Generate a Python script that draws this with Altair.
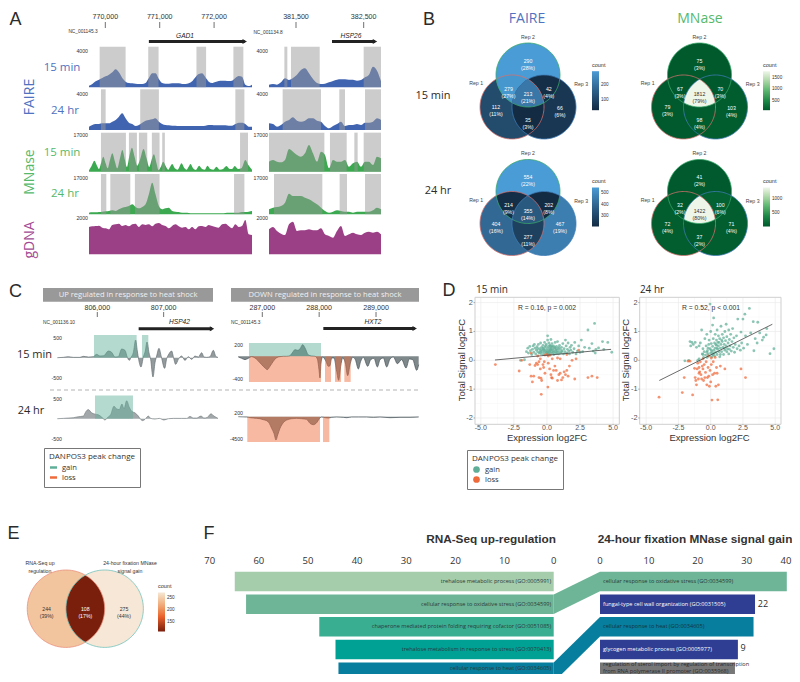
import altair as alt
import numpy as np
import pandas as pd

alt.data_transformers.disable_max_rows()

# ---------------------------------------------------------------- page layout
W, H, M = 784, 666, 8
SANS, OPEN = "Liberation Sans", "Open Sans"


def px_x(v):
    return v - M


def px_y(v):
    return v - M


def reads(unit, values):
    return [v * unit for v in values]


def a_l(z):
    return 770000 + (z - 316) / 0.1635


# ---------------------------------------------------------------- A: tracks
A_L_DOMAIN = [769700, 772697]
A_R_DOMAIN = [381101, 382756]
A_L_TICKS = [770000, 771000, 772000]
A_R_TICKS = [381500, 382500]
GAD1 = (770801, 772563)
HSP26 = (382032, 382667)

mnase15_l_read = [(267,4),(275,18),(283,33),(291,18),(297,8),(303,25),(310,45),(317,25),(323,10),(330,35),(337,55),(345,30),(352,10),(360,40),(367,65),(375,35),(381,14),(389,50),(396,72),(404,45),(412,18),(420,35),(431,68),(440,40),(448,14),(455,35),(462,52),(470,25),(476,5),(483,15),(490,30),(497,18),(505,6),(511,15),(517,23),(525,10),(533,6),(539,15),(545,25),(553,12),(560,6),(566,14),(572,23),(580,10),(588,5),(593,12),(598,18),(607,8),(615,6),(623,18),(632,8),(641,6),(650,15),(660,6),(670,8),(680,17),(690,8),(697,8),(705,17),(715,8),(725,10),(737,35),(746,20),(757,6)]

faire15_l = reads(36.4, [5,10,18,23,28,33,38,45,54,45,28,17,13,12,11,10,10,13,28,42,42,25,13,11,11,12,12,12,10,10,12,18,30,40,42,30,17,13,16,19,20,20,19,20,28,34,32,8,4,8])
faire15_r = reads(36.4, [8,10,8,15,27,22,28,38,52,57,42,25,13,10,11,15,19,23,24,24,23,23,20,22,30,38,62,50,18])
faire24_l = reads(37.4, [10,15,18,18,20,20,20,25,30,40,50,35,22,18,12,15,22,28,30,32,35,25,18,15,14,13,13,12,12,12,12,12,12,12,12,13,15,15,14,14,14,14,13,13,18,22,22,18,10,10])
faire24_r = reads(37.4, [20,18,10,15,25,30,38,28,25,28,35,35,28,25,12,5,12,18,25,12,15,15,18,15,22,22,25,35,30])
mnase15_l = reads(154.5, [p[1] for p in mnase15_l_read])
mnase15_r = reads(154.5, [30,35,30,28,35,68,60,50,45,55,80,55,30,60,50,10,35,30,30,35,15,25,30,15,30,30,20,45,40])
mnase24_l = reads(157, [5,6,6,7,8,9,10,12,10,15,20,22,25,30,22,18,22,30,60,95,60,25,15,18,20,10,8,7,5,5,4,3,3,3,3,3,3,3,3,3,3,4,5,5,5,5,7,7,8,10])
mnase24_r = reads(157, [15,20,22,25,35,62,55,55,55,50,45,38,30,20,10,5,8,12,10,8,8,5,8,8,8,8,12,20,15])
gdna_l = reads(18.5, [82,84,85,86,80,78,75,88,90,92,85,88,84,90,92,82,90,88,90,84,92,94,88,85,78,85,90,84,80,82,75,82,75,84,85,82,88,85,82,80,90,92,85,78,90,82,85,103,60,58])
gdna_r = reads(18.5, [75,82,70,62,58,90,98,70,72,72,75,72,72,78,60,55,50,70,85,55,60,65,60,58,65,68,65,68,60])

bands_f15_l = [(769896,770373),(770789,770979),(771676,771853),(772355,772538)]
bands_f24_l = [(769920,770006),(770642,770985),(772391,772557)]
bands_m15_l = [(769920,770379),(770434,770581),(770618,770771),(770856,770997),(771046,771095),(772477,772624)]
bands_m24_l = [(769920,770018),(770092,770459),(770544,770997),(772367,772557)]
bands_f15_r = [(381328,381372),(381426,381850),(382500,382756)]
bands_f24_r = [(381303,381869),(382140,382224),(382520,382756)]
bands_m15_r = [(381101,381919),(382002,382249),(382362,382411),(382500,382756)]
bands_m24_r = [(381175,381889),(382145,382254),(382520,382756)]


def lin(dom, rng):
    return alt.Scale(domain=list(dom), range=list(rng), nice=False, zero=False)


def ticks_x(values, sx, y_label, fmt="{:,d}", tick=None, size=7.1, color="#333", font=SANS, tick_color="#333"):
    """Tick labels (and optional tick rules) drawn on the panel's own x scale."""
    df = pd.DataFrame({"v": values, "t": [fmt.format(v) for v in values]})
    out = [alt.Chart(df).mark_text(font=font, fontSize=size, color=color, baseline="middle").encode(
        x=alt.X("v:Q", scale=sx, axis=None), y=alt.value(px_y(y_label)), text="t:N")]
    if tick:
        out.append(alt.Chart(df).mark_rule(color=tick_color, strokeWidth=0.7).encode(
            x=alt.X("v:Q", scale=sx, axis=None), y=alt.value(px_y(tick[0])), y2=alt.value(px_y(tick[1]))))
    return out


def ticks_y(values, sy, x_right, fmt="{:d}", tick=None, size=5.2, color="#333", tick_color="#888"):
    df = pd.DataFrame({"v": values, "t": [fmt.format(v) for v in values]})
    out = [alt.Chart(df).mark_text(font=SANS, fontSize=size, color=color, align="right", baseline="middle").encode(
        y=alt.Y("v:Q", scale=sy, axis=None), x=alt.value(px_x(x_right)), text="t:N")]
    if tick:
        out.append(alt.Chart(df).mark_rule(color=tick_color, strokeWidth=0.7).encode(
            y=alt.Y("v:Q", scale=sy, axis=None), x=alt.value(px_x(tick[0])), x2=alt.value(px_x(tick[1]))))
    return out


def track(vals, xdom, xpx, ydom, ypx, color, xs=None, line=False):
    sx = lin(xdom, [px_x(xpx[0]), px_x(xpx[1])])
    sy = lin(ydom, [px_y(ypx[0]), px_y(ypx[1])])
    xv = np.linspace(xdom[0], xdom[1], len(vals)) if xs is None else xs
    df = pd.DataFrame({"g": xv, "v": vals})
    mark = dict(color=color, interpolate="monotone")
    if line:
        mark["line"] = {"color": color, "strokeWidth": 0.7}
    ch = alt.Chart(df).mark_area(**mark).encode(
        x=alt.X("g:Q", scale=sx, axis=None), y=alt.Y("v:Q", scale=sy, axis=None, stack=None))
    return ch, sx, sy


def gray_bands(bands, top, sx, sy):
    df = pd.DataFrame({"a": [b[0] for b in bands], "b": [b[1] for b in bands], "t": top, "z": 0})
    return alt.Chart(df).mark_rect(color="#999999", opacity=0.5).encode(
        x=alt.X("a:Q", scale=sx, axis=None), x2="b:Q",
        y=alt.Y("t:Q", scale=sy, axis=None), y2="z:Q")


def gene(g, y, sx):
    df = pd.DataFrame({"a": [g[0]], "b": [g[1]]})
    r = alt.Chart(df).mark_rule(color="#222", strokeWidth=3).encode(
        x=alt.X("a:Q", scale=sx, axis=None), x2="b:Q", y=alt.value(px_y(y)))
    p = alt.Chart(df).mark_point(shape="triangle-right", filled=True, color="#222", size=26, opacity=1).encode(
        x=alt.X("b:Q", scale=sx, axis=None), y=alt.value(px_y(y)))
    return [r, p]


A_L_PX, A_R_PX = (89, 252), (269, 381)
BLUE, GREEN, PURPLE = "#4164b0", "#3ba94f", "#9b3f86"
a_rows = [
    # left vals, right vals, left bands, right bands, label value, base px, label px, band top value, colour
    (faire15_l, faire15_r, bands_f15_l, bands_f15_r, 4000, 87.3, 50.7, 4436, BLUE),
    (faire24_l, faire24_r, bands_f24_l, bands_f24_r, 4000, 130.0, 94.3, 4561, BLUE),
    (mnase15_l, mnase15_r, bands_m15_l, bands_m15_r, 17000, 171.7, 135.0, 18082, GREEN),
    (mnase24_l, mnase24_r, bands_m24_l, bands_m24_r, 17000, 214.3, 178.3, 19040, GREEN),
    (gdna_l, gdna_r, None, None, 2000, 254.3, 218.3, None, PURPLE),
]
LEFT_XS = {2: [a_l(p[0]) for p in mnase15_l_read]}
panels = []
for i, (vl, vr, bl, br, lab, base, lpx, top, col) in enumerate(a_rows):
    for side, v, b, dom, xpx, tks, lx, g in [
        ("l", vl, bl, A_L_DOMAIN, A_L_PX, A_L_TICKS, 88, GAD1),
        ("r", vr, br, A_R_DOMAIN, A_R_PX, A_R_TICKS, 268, HSP26),
    ]:
        ch, sx, sy = track(v, dom, xpx, [0, lab], [base, lpx], col, xs=LEFT_XS.get(i) if side == "l" else None)
        parts = [ch]
        if b:
            parts.append(gray_bands(b, top, sx, sy))
        parts += ticks_y([lab], sy, lx)
        if i == 0:
            parts += gene(g, 41.5, sx)
            parts += ticks_x(tks, sx, 17.3, tick=(22, 28))
        panels.append(alt.layer(*parts))


# ---------------------------------------------------------------- C: tracks
def c_l(z):
    return 806000 + (z - 292) / 0.199


def c_r(z):
    return 287000 + (z - 787) / 0.1705


c_up15 = [(172,0),(190,1),(205,3),(220,1),(240,1),(250,4),(265,2),(280,3),(290,10),(300,5),(312,6),(325,20),(335,16),(345,2),(355,3),(365,26),(375,22),(382,1),(388,-8),(393,1),(400,15),(407,53),(412,20),(416,-5),(423,-28),(430,2),(436,20),(441,47),(447,15),(452,-5),(459,-58),(465,-15),(470,5),(477,28),(484,3),(494,-32),(500,-3),(505,8),(515,20),(520,3),(527,-20),(535,-5),(545,5),(555,-8),(565,3),(575,-5),(585,5),(595,2),(605,15),(612,2),(620,1),(630,3),(640,22),(648,3),(654,1)]
c_up24 = [(172,0),(190,1),(205,2),(220,3),(235,6),(250,8),(258,22),(265,28),(275,18),(285,14),(295,12),(305,5),(315,-4),(322,3),(332,12),(342,38),(350,30),(358,28),(366,45),(372,30),(380,55),(388,35),(396,22),(405,18),(415,8),(422,-2),(428,-6),(435,-2),(445,8),(452,1),(465,-1),(478,1),(492,-4),(505,0),(520,1),(545,1),(560,1),(570,7),(580,2),(590,2),(603,8),(612,2),(622,4),(633,15),(642,8),(654,1)]
c_dn15 = [(715,-2),(725,-6),(735,-10),(745,-6),(755,-1),(765,-5),(775,-14),(785,-25),(795,-35),(802,-40),(810,-30),(820,-15),(830,-4),(840,-1),(850,0),(860,0),(870,2),(878,12),(885,20),(893,18),(900,22),(908,35),(915,25),(925,4),(935,1),(945,0),(952,-8),(957,-40),(960,-65),(963,-20),(968,-2),(978,-15),(985,-30),(990,-28),(995,-5),(1002,-5),(1010,-45),(1016,-72),(1022,-30),(1028,-5),(1036,-20),(1043,-58),(1050,-25),(1058,-3),(1066,-10),(1075,-38),(1082,-15),(1090,-3),(1103,-30),(1112,-10),(1122,-6),(1132,-32),(1140,-10),(1150,-5),(1160,-32),(1170,-8),(1180,-2),(1192,-22),(1205,-10),(1218,-35),(1228,-8),(1238,-10),(1250,-42),(1256,-25)]
c_dn24 = [(715,0),(740,-1),(750,-3),(760,-4),(770,-5),(780,-6),(790,-9),(800,-12),(808,-20),(815,-35),(822,-50),(828,-70),(833,-55),(840,-35),(850,-18),(860,-10),(875,-6),(890,-5),(905,-6),(920,-8),(930,-20),(940,-24),(950,-18),(958,-6),(965,-1),(975,-3),(985,-4),(995,-2),(1010,-1),(1030,-2),(1040,-3),(1055,-1),(1075,-1),(1100,-1),(1120,-2),(1140,-1),(1170,-3),(1200,-2),(1230,-2),(1256,-1)]

PEAK_GROUPS = ["gain", "loss"]
PEAK_COLORS = ["#5fae97", "#ef6a3a"]
c_bands_up15 = [("gain", 282, 410), ("gain", 426, 445)]
c_bands_up24 = [("gain", 285, 399)]
c_bands_dn15 = [("gain", 747, 963), ("loss", 747, 963), ("loss", 975, 993), ("loss", 1005, 1023), ("loss", 1033, 1052)]
c_bands_dn24 = [("loss", 742, 960), ("loss", 969, 988)]

C_L_DOMAIN, C_R_DOMAIN = [c_l(172), c_l(654)], [c_r(715), c_r(1256)]
C_L_PX, C_R_PX = (57.3, 218), (238.3, 418.7)


def peak_bands(bands, conv, gain_top, loss_bottom, sx, sy, legend=None):
    df = pd.DataFrame({"group": [b[0] for b in bands], "a": [conv(b[1]) for b in bands],
                       "b": [conv(b[2]) for b in bands],
                       "t": [gain_top if b[0] == "gain" else loss_bottom for b in bands], "z": 0})
    return alt.Chart(df).mark_rect(opacity=0.47).encode(
        x=alt.X("a:Q", scale=sx, axis=None), x2="b:Q",
        y=alt.Y("t:Q", scale=sy, axis=None), y2="z:Q",
        color=alt.Color("group:N", scale=alt.Scale(domain=PEAK_GROUPS, range=PEAK_COLORS), legend=legend))


c_legend = alt.Legend(orient="none", legendX=px_x(44), legendY=px_y(448), title="DANPOS3 peak change",
                      titleFont=OPEN, titleFontSize=8, titleFontWeight="normal", titleColor="#333",
                      titlePadding=2, labelFont=OPEN, labelFontSize=7.6, labelColor="#333", padding=5,
                      strokeColor="#777", symbolType="M-1,-0.35H1V0.35H-1Z", symbolSize=50,
                      symbolOpacity=1, rowPadding=1)

c_rows = [
    (c_up15, c_l, C_L_DOMAIN, C_L_PX, [-500, 500], [377.7, 337.7], 8.33, "#667074", c_bands_up15, 567, 0, [500, -500], 62, [806000, 807000], None),
    (c_up24, c_l, C_L_DOMAIN, C_L_PX, [-500, 500], [438.7, 398.7], 8.13, "#7a8285", c_bands_up24, 577, 0, [500, -500], 62, None, None),
    (c_dn15, c_r, C_R_DOMAIN, C_R_PX, [-400, 200], [379.3, 344.8], 5.8, "#49555a", c_bands_dn15, 232, -446, [200, -400], 243, [287000, 288000, 289000], c_legend),
    (c_dn24, c_r, C_R_DOMAIN, C_R_PX, [-4500, 0], [438.7, 416.7], 68.2, "#49555a", c_bands_dn24, 0, -5182, [-4500], 243, None, None),
]
C_GENES = {0: (c_l(416), c_l(636), 328.7), 2: (c_r(970), c_r(1244), 328.5)}
for i, (pts, conv, dom, xpx, yd, yp, unit, col, bands, gt, lb, labs, lx, tks, leg) in enumerate(c_rows):
    ch, sx, sy = track([p[1] * unit for p in pts], dom, xpx, yd, yp, col, xs=[conv(p[0]) for p in pts], line=True)
    parts = [ch, peak_bands(bands, conv, gt, lb, sx, sy, legend=leg)]
    parts += ticks_y(labs, sy, lx)
    if tks:
        parts += ticks_x(tks, sx, 308, tick=(312, 317))
    if i in C_GENES:
        g = C_GENES[i]
        parts += gene((g[0], g[1]), g[2], sx)
    panels.append(alt.layer(*parts))

# ---------------------------------------------------------------- B, E: Venn diagrams
V3_NAMES = ["1", "2", "3", "12", "23", "13", "123"]
V3_CENTERS = {"1": (-0.5, 0.0), "2": (0.0, 1.0), "3": (0.5, 0.0)}
V3_LABEL_XY = {"1": (-1.0, 0.0), "2": (0.0, 1.45), "3": (1.0, -0.03), "12": (-0.61, 0.57), "23": (0.65, 0.57),
               "13": (0.0, -0.41), "123": (0.0, 0.40)}
V3_REP_XY = {"Rep 1": (-1.62, 0.74), "Rep 2": (0.0, 2.19), "Rep 3": (1.66, 0.71)}
V3_STROKES = {"1": "#d4716f", "2": "#39a86a", "3": "#3f7cb8"}

faire15_counts = [112, 290, 66, 279, 42, 35, 213]
faire15_pct = [11, 28, 6, 27, 4, 3, 21]
faire24_counts = [404, 554, 467, 214, 202, 277, 355]
faire24_pct = [16, 22, 19, 9, 8, 11, 14]
mnase15_counts = [79, 75, 103, 67, 70, 98, 1812]
mnase15_pct = [3, 3, 4, 3, 3, 4, 79]
mnase24_counts = [72, 41, 71, 32, 100, 37, 1422]
mnase24_pct = [4, 2, 4, 2, 6, 2, 80]
e_counts = [244, 275, 108]
e_pct = [39, 44, 17]
E_NAMES = ["1", "2", "12"]
E_CENTERS = {"1": (-0.5, 0.0), "2": (0.5, 0.0)}
E_LABEL_XY = {"1": (-1.0, 0.0), "2": (1.0, 0.0), "12": (0.0, 0.0)}
E_STROKES = {"1": "#e98f7d", "2": "#6fc1bb"}


def region_rows(names, centers, counts):
    frames = []
    theta = np.linspace(0, np.pi, 130)
    xs = np.unique(np.concatenate([c[0] + np.cos(theta) for c in centers.values()]))
    for idx, (nm, cnt) in enumerate(zip(names, counts)):
        cs = [centers[k] for k in nm]
        lo = np.full_like(xs, -np.inf)
        hi = np.full_like(xs, np.inf)
        ok = np.ones_like(xs, dtype=bool)
        for (cx, cy) in cs:
            d = 1 - (xs - cx) ** 2
            ok &= d >= -1e-12
            root = np.sqrt(np.clip(d, 0, None))
            lo = np.maximum(lo, cy - root)
            hi = np.minimum(hi, cy + root)
        ok &= hi >= lo
        frames.append(pd.DataFrame({"u": xs[ok], "lo": lo[ok], "hi": hi[ok], "region": f"{idx}-{nm}", "count": cnt}))
    return pd.concat(frames, ignore_index=True)


def circle_rows(center):
    t = np.linspace(0, 2 * np.pi, 160)
    return pd.DataFrame({"u": center[0] + np.cos(t), "w": center[1] + np.sin(t), "i": np.arange(len(t))})


def venn(names, centers, counts, pct, label_xy, strokes, cx, cy, unit, color_scale, legend, dark_rule, rep_xy=None,
         tsize=5.2):
    sx = lin([-2, 2], [px_x(cx - 2 * unit), px_x(cx + 2 * unit)])
    sy = lin([-2, 2], [px_y(cy + 2 * unit), px_y(cy - 2 * unit)])
    area = alt.Chart(region_rows(names, centers, counts)).mark_area().encode(
        x=alt.X("u:Q", scale=sx, axis=None), y=alt.Y("hi:Q", scale=sy, axis=None, stack=None), y2="lo:Q",
        detail="region:N",
        color=alt.Color("count:Q", scale=color_scale, legend=legend))
    parts = [area]
    for k, c in centers.items():
        parts.append(alt.Chart(circle_rows(c)).mark_line(color=strokes[k], strokeWidth=0.8).encode(
            x=alt.X("u:Q", scale=sx, axis=None), y=alt.Y("w:Q", scale=sy, axis=None), order="i:Q"))
    lab = pd.DataFrame({"u": [label_xy[n][0] for n in names], "w": [label_xy[n][1] for n in names],
                        "t": [f"{c}\n({p}%)" for c, p in zip(counts, pct)], "count": counts})
    dark = lab["count"].map(dark_rule)
    for sub, col in [(lab[~dark], "#ffffff"), (lab[dark], "#333333")]:
        if len(sub):
            parts.append(alt.Chart(sub).mark_text(lineBreak="\n", color=col, font=SANS, fontSize=tsize, lineHeight=7).encode(
                x=alt.X("u:Q", scale=sx, axis=None), y=alt.Y("w:Q", scale=sy, axis=None), text="t:N"))
    if rep_xy:
        rp = pd.DataFrame({"u": [v[0] for v in rep_xy.values()], "w": [v[1] for v in rep_xy.values()],
                           "t": list(rep_xy.keys())})
        parts.append(alt.Chart(rp).mark_text(color="#444", font=SANS, fontSize=5.2).encode(
            x=alt.X("u:Q", scale=sx, axis=None), y=alt.Y("w:Q", scale=sy, axis=None), text="t:N"))
    return alt.layer(*parts)


def grad_legend(x, grad_top, values, length=39):
    return alt.Legend(orient="none", legendX=px_x(x), legendY=px_y(grad_top - 9), title="count", titleFont=SANS,
                      titleFontSize=5.5, titleFontWeight="normal", titleColor="#333", titlePadding=3,
                      gradientLength=length, gradientThickness=7, values=values, labelFont=SANS, labelFontSize=4.6,
                      labelColor="#333", labelOffset=2, gradientStrokeWidth=0, format="d")


def blue_scale(lo, hi):
    return alt.Scale(domain=[lo, hi], range=["#132B43", "#4a9cd6"], interpolate="lab")


def green_scale(lo, a, b, hi):
    return alt.Scale(domain=[lo, a, b, hi], range=["#00592c", "#1e8a47", "#63bb76", "#eef6ea"])


never_dark = lambda c: False
panels.append(venn(V3_NAMES, V3_CENTERS, faire15_counts, faire15_pct, V3_LABEL_XY, V3_STROKES, 528, 107, 32,
                   blue_scale(35, 290), grad_legend(592, 71.7, [100, 200]), never_dark, V3_REP_XY))
panels.append(venn(V3_NAMES, V3_CENTERS, faire24_counts, faire24_pct, V3_LABEL_XY, V3_STROKES, 528, 223.5, 32,
                   blue_scale(202, 554), grad_legend(592, 188, [300, 400, 500]), never_dark, V3_REP_XY))
panels.append(venn(V3_NAMES, V3_CENTERS, mnase15_counts, mnase15_pct, V3_LABEL_XY, V3_STROKES, 699.5, 107, 32,
                   green_scale(67, 500, 1000, 1812), grad_legend(763, 71.7, [500, 1000, 1500]), lambda c: c >= 1000, V3_REP_XY))
panels.append(venn(V3_NAMES, V3_CENTERS, mnase24_counts, mnase24_pct, V3_LABEL_XY, V3_STROKES, 699.5, 223.5, 32,
                   green_scale(32, 420, 800, 1422), grad_legend(763, 188, [500, 1000]), lambda c: c >= 1000, V3_REP_XY))
panels.append(venn(E_NAMES, E_CENTERS, e_counts, e_pct, E_LABEL_XY, E_STROKES, 85.3, 608.7, 38.7,
                   alt.Scale(domain=[108, 170, 220, 275], range=["#7a1f0c", "#e8602a", "#f0a878", "#f7e7d6"]),
                   grad_legend(158, 593, [150, 200, 250]), lambda c: c >= 200))

# ---------------------------------------------------------------- D: scatter
d15_gain = [(-2.0,0.0),(-1.7,0.02),(-1.55,0.3),(-1.45,0.42),(-1.4,0.25),(-1.3,0.48),(-1.25,0.33),(-1.15,0.2),(-1.1,0.38),(-1.05,0.5),(-1.0,0.28),(-0.95,0.55),(-0.9,0.42),(-0.85,0.22),(-0.8,0.35),(-0.75,0.47),(-0.7,0.3),(-0.65,0.55),(-0.6,0.25),(-0.55,0.4),(-0.5,0.33),(-0.48,0.6),(-0.45,0.23),(-0.4,0.45),(-0.35,0.3),(-0.3,0.52),(-0.28,0.2),(-0.25,0.38),(-0.2,0.28),(-0.18,0.62),(-0.15,0.45),(-0.1,0.33),(-0.08,0.24),(-0.05,0.55),(0.0,0.4),(0.02,0.3),(0.05,0.85),(0.05,0.7),(0.08,0.2),(0.1,0.47),(0.12,0.35),(0.15,0.6),(0.18,0.28),(0.2,0.42),(0.22,0.52),(0.25,0.22),(0.28,0.36),(0.3,0.72),(0.32,0.3),(0.35,0.46),(0.38,0.58),(0.4,0.25),(0.42,0.38),(0.45,0.33),(0.5,0.5),(0.52,0.2),(0.55,0.42),(0.6,0.3),(0.62,0.62),(0.65,0.36),(0.7,0.24),(0.72,0.48),(0.78,0.33),(0.8,0.65),(0.85,0.4),(0.88,0.22),(0.92,0.3),(0.95,0.52),(1.0,0.38),(1.05,0.25),(1.1,0.45),(1.15,0.33),(1.2,0.58),(1.25,0.22),(1.3,0.4),(1.35,0.3),(1.4,0.7),(1.45,0.5),(1.5,0.26),(1.55,0.38),(1.6,0.6),(1.65,0.32),(1.7,0.22),(1.75,0.45),(1.8,0.35),(1.85,0.52),(1.95,0.28),(2.05,0.4),(2.1,0.62),(2.2,0.22),(2.3,0.32),(2.4,0.5),(2.5,0.28),(2.6,0.7),(2.7,0.3),(2.85,0.45),(3.1,1.05),(3.2,0.42),(3.4,0.58),(3.5,0.32),(3.6,1.28),(3.65,0.25),(3.7,0.38),(3.9,0.43),(4.2,0.65),(4.3,0.38),(4.6,0.62),(4.9,0.28),(-0.5,0.28),(-0.2,0.35),(0.1,0.25),(0.3,0.4),(0.5,0.28),(0.7,0.4),(-0.3,0.42),(-0.1,0.5),(0.2,0.33),(0.4,0.48),(0.6,0.45),(0.9,0.45),(-0.7,0.4),(-0.4,0.36),(0.0,0.28),(0.25,0.5),(0.75,0.28),(1.1,0.3)]
d15_loss = [(-3.9,-0.15),(-2.1,-0.37),(-1.9,0.0),(-1.3,-0.15),(-1.2,-0.55),(-1.1,-0.75),(-1.0,-0.55),(-0.9,-0.18),(-0.8,-0.1),(-0.7,-0.15),(-0.6,-0.05),(-0.6,-0.6),(-0.5,-0.3),(-0.45,-0.62),(-0.43,-1.18),(-0.4,-0.7),(-0.3,-0.15),(-0.25,-0.25),(-0.2,-0.05),(-0.15,-0.45),(0.07,-0.93),(0.0,0.2),(0.1,0.15),(0.1,-0.1),(0.2,-0.3),(0.3,-0.5),(0.35,-0.6),(0.4,-0.62),(0.5,-0.35),(0.6,-0.2),(0.7,-0.35),(0.8,-0.7),(0.9,-0.5),(1.0,-0.45),(1.1,-0.68),(1.2,-0.6),(1.3,-0.4),(1.4,-0.5),(1.5,-0.35),(1.6,-0.55),(1.7,-0.2),(1.9,0.0),(1.0,0.05),(1.5,0.2),(2.1,-0.65),(2.2,0.05),(2.4,0.35),(3.1,-0.6),(3.4,-0.55),(3.8,-0.6),(-0.5,0.05),(0.4,0.05),(0.8,0.08),(-0.15,0.18),(-1.2,0.25),(-0.7,0.15),(0.25,0.18)]
d24_gain = [(-2.0,-0.02),(-1.7,0.0),(-1.6,0.65),(-1.55,0.5),(-1.45,0.62),(-1.35,0.55),(-1.2,0.62),(-1.1,0.45),(-1.0,0.0),(-0.9,0.05),(-0.8,0.6),(-0.7,1.05),(-0.65,0.22),(-0.6,0.4),(-0.55,0.1),(-0.5,0.3),(-0.45,0.75),(-0.4,0.18),(-0.35,0.5),(-0.3,0.9),(-0.28,0.1),(-0.25,0.33),(-0.2,0.22),(-0.15,0.55),(-0.12,0.7),(-0.1,0.15),(-0.05,1.95),(-0.05,0.4),(0.0,0.25),(0.0,1.0),(0.05,0.58),(0.1,0.3),(0.1,0.12),(0.15,1.22),(0.15,0.48),(0.2,0.75),(0.2,0.2),(0.23,1.47),(0.25,0.35),(0.3,0.6),(0.3,0.15),(0.35,0.9),(0.35,0.42),(0.4,0.28),(0.45,0.7),(0.45,0.52),(0.5,1.05),(0.5,0.2),(0.55,0.38),(0.6,0.85),(0.6,0.5),(0.65,0.62),(0.65,0.3),(0.7,0.12),(0.7,0.75),(0.75,0.42),(0.8,1.18),(0.8,0.55),(0.85,0.3),(0.9,0.9),(0.9,0.65),(0.95,0.45),(1.0,0.78),(1.0,0.2),(1.05,0.55),(1.1,1.0),(1.1,0.35),(1.15,0.68),(1.2,0.5),(1.2,1.25),(1.25,0.82),(1.3,0.4),(1.35,0.6),(1.4,1.05),(1.4,0.22),(1.45,0.72),(1.5,0.5),(1.55,0.9),(1.6,0.32),(1.65,0.65),(1.7,1.1),(1.75,0.45),(1.8,0.78),(1.85,0.28),(1.9,0.55),(2.0,0.85),(2.05,0.4),(2.1,1.43),(2.2,0.5),(2.3,0.35),(2.35,0.98),(2.4,0.6),(2.5,1.43),(2.55,0.42),(2.65,1.6),(2.7,0.85),(2.85,0.55),(3.0,1.8),(3.1,0.95),(3.3,1.34),(3.35,0.33),(3.45,0.75),(3.6,0.6),(3.65,1.32),(3.8,0.95),(4.0,0.7),(4.1,0.8),(4.3,0.88),(4.35,1.1),(4.6,0.23),(4.9,0.4),(-0.9,0.5),(-0.3,0.28),(0.05,0.35),(0.25,0.25),(0.4,0.55),(0.55,0.62),(0.75,0.2),(0.85,0.7),(1.05,0.42),(1.25,0.3),(1.45,0.38),(-0.6,0.2),(-0.2,0.42),(0.15,0.2),(0.5,0.42)]
d24_loss = [(-4.0,-1.28),(-2.2,-1.12),(-2.05,-0.6),(-1.75,-0.03),(-1.6,-0.03),(-1.4,-1.2),(-1.25,-0.28),(-1.2,-0.6),(-1.15,-0.7),(-1.1,-0.85),(-1.05,-0.3),(-1.0,-0.1),(-0.95,-0.65),(-0.9,-0.25),(-0.85,-0.4),(-0.8,-0.05),(-0.75,-0.5),(-0.7,-0.65),(-0.65,-0.2),(-0.6,-0.3),(-0.55,-0.7),(-0.5,-0.15),(-0.45,-0.6),(-0.4,-0.42),(-0.35,-0.05),(-0.3,-0.85),(-0.25,-0.6),(-0.2,-0.25),(-0.15,-0.55),(-0.1,-0.9),(-0.05,-0.35),(0.0,-0.75),(0.05,-0.15),(0.1,-1.38),(0.15,-0.5),(0.2,-0.05),(0.3,-0.45),(0.35,0.1),(0.4,-0.9),(0.45,-0.25),(0.5,-0.45),(0.55,-1.37),(0.6,-0.85),(0.75,-0.2),(-0.6,0.05),(-0.2,0.15),(0.05,0.08),(-0.9,-0.45),(1.1,-0.3),(2.35,-0.3),(2.7,-0.6)]
d15_fit = [(-3.93, 0.01), (4.85, 0.38)]
d24_fit = [(-3.98, -0.70), (4.78, 1.25)]
D_X_TICKS = [-5.0, -2.5, 0.0, 2.5, 5.0]
D_X_MINOR = [-3.75, -1.25, 1.25, 3.75]
D_Y_TICKS = [-2, -1, 0, 1, 2]
D_Y_MINOR = [-1.5, -0.5, 0.5, 1.5]


def scatter(gain, loss, fit, xdom, xpx, legend):
    ydom = [-2.22, 2.185]
    ypx = [424.3, 297.3]
    sx = lin(xdom, [px_x(xpx[0]), px_x(xpx[1])])
    sy = lin(ydom, [px_y(ypx[0]), px_y(ypx[1])])
    parts = []
    for vals, col, w in [(D_X_MINOR, "#f4f4f4", 0.5), (D_X_TICKS, "#ebebeb", 0.7)]:
        parts.append(alt.Chart(pd.DataFrame({"x": vals, "a": ydom[0], "b": ydom[1]})).mark_rule(color=col, strokeWidth=w).encode(
            x=alt.X("x:Q", scale=sx, axis=None), y=alt.Y("a:Q", scale=sy, axis=None), y2="b:Q"))
    for vals, col, w in [(D_Y_MINOR, "#f4f4f4", 0.5), (D_Y_TICKS, "#ebebeb", 0.7)]:
        parts.append(alt.Chart(pd.DataFrame({"y": vals, "a": xdom[0], "b": xdom[1]})).mark_rule(color=col, strokeWidth=w).encode(
            y=alt.Y("y:Q", scale=sy, axis=None), x=alt.X("a:Q", scale=sx, axis=None), x2="b:Q"))
    frame = pd.DataFrame({"a": [xdom[0]], "b": [xdom[1]], "c": [ydom[0]], "d": [ydom[1]]})
    parts.append(alt.Chart(frame).mark_rect(fill=None, stroke="#cfcfcf", strokeWidth=1).encode(
        x=alt.X("a:Q", scale=sx, axis=None), x2="b:Q", y=alt.Y("c:Q", scale=sy, axis=None), y2="d:Q"))
    parts += ticks_x(D_X_TICKS, sx, 427.9, fmt="{:.1f}", tick=(424.3, 425), size=7.0, color="#555", tick_color="#888")
    parts += ticks_y(D_Y_TICKS, sy, xpx[0] - 2.2, tick=(xpx[0] - 1.5, xpx[0]), size=7.4, color="#555")
    pts = pd.DataFrame(
        [{"x": p[0], "y": p[1], "group": "gain"} for p in gain] + [{"x": p[0], "y": p[1], "group": "loss"} for p in loss])
    parts.append(alt.Chart(pts).mark_circle(size=8, opacity=0.72).encode(
        x=alt.X("x:Q", scale=sx, axis=None), y=alt.Y("y:Q", scale=sy, axis=None),
        color=alt.Color("group:N", scale=alt.Scale(domain=PEAK_GROUPS, range=PEAK_COLORS), legend=legend)))
    ft = pd.DataFrame({"x": [f[0] for f in fit], "y": [f[1] for f in fit]})
    parts.append(alt.Chart(ft).mark_line(color="#444", strokeWidth=0.8).encode(
        x=alt.X("x:Q", scale=sx, axis=None), y=alt.Y("y:Q", scale=sy, axis=None)))
    return alt.layer(*parts)


d_legend = alt.Legend(orient="none", legendX=px_x(467), legendY=px_y(450), title="DANPOS3 peak change",
                      titleFont=OPEN, titleFontSize=8, titleFontWeight="normal", titleColor="#333", titlePadding=2,
                      labelFont=OPEN, labelFontSize=7.6, labelColor="#333", padding=5, strokeColor="#777",
                      symbolType="circle", symbolSize=45, symbolOpacity=1, rowPadding=1)
panels.append(scatter(d15_gain, d15_loss, d15_fit, [-5.44, 5.47], [475, 619.3], d_legend))
panels.append(scatter(d24_gain, d24_loss, d24_fit, [-5.5, 5.45], [639.7, 781], None))

# ---------------------------------------------------------------- F: enrichment bars
f_left_terms = ["trehalose metabolic process (GO:0005991)", "cellular response to oxidative stress (GO:0034599)",
                "chaperone mediated protein folding requiring cofactor (GO:0051085)",
                "trehalose metabolism in response to stress (GO:0070413)", "cellular response to heat (GO:0034605)"]
f_left_values = [64.9, 62.6, 47.7, 44.4, 43.8]
f_left_colors = ["#a5ccab", "#6eb597", "#3aae91", "#00a195", "#087e9e"]
f_right_terms = ["cellular response to oxidative stress (GO:0034599)", "fungal-type cell wall organization (GO:0031505)",
                 "cellular response to heat (GO:0034605)", "glycogen metabolic process (GO:0005977)",
                 "regulation of sterol import by regulation of transcription\nfrom RNA polymerase II promoter (GO:0035968)"]
f_right_values = [38.2, 31.7, 31.4, 28.2, 27.6]
f_right_colors = ["#6eb597", "#2f3e92", "#087e9e", "#2f3e92", "#777777"]
f_right_text_colors = ["#263a36", "#ffffff", "#12343c", "#ffffff", "#2b2b2b"]
BAR_H = 0.86
f_sy = lin([4 + BAR_H, 0], [px_y(682), px_y(571.7)])


def f_side(values, terms, colors, text_colors, sx, ticks, align, dx, last_row_lift=0.0):
    rows = range(len(values))
    df = pd.DataFrame({"v": values, "z": 0, "r": [float(i) for i in rows],
                       "r2": [i + BAR_H for i in rows], "c": colors, "t": terms,
                       "m": [i + BAR_H / 2 - 0.02 - (last_row_lift if i == len(values) - 1 else 0) for i in rows],
                       "tc": text_colors})
    bars = alt.Chart(df).mark_rect().encode(
        x=alt.X("v:Q", scale=sx, axis=None), x2="z:Q", y=alt.Y("r:Q", scale=f_sy, axis=None), y2="r2:Q",
        color=alt.Color("c:N", scale=None))
    txt = alt.Chart(df).mark_text(align=align, dx=dx, font=OPEN, fontSize=5.6, lineBreak="\n", lineHeight=7).encode(
        x=alt.X("z:Q", scale=sx, axis=None), y=alt.Y("m:Q", scale=f_sy, axis=None), text="t:N",
        color=alt.Color("tc:N", scale=None))
    return [bars, txt] + ticks_x(ticks, sx, 561, fmt="{:d}", size=9.5, font=OPEN)


f_lx = lin([70, 0], [px_x(209.7), px_x(553.7)])
f_rx = lin([0, 40], [px_x(600), px_x(795.6)])
panels.append(alt.layer(*f_side(f_left_values, f_left_terms, f_left_colors, ["#2b3a38"] * 5, f_lx,
                                list(range(0, 71, 10)), "right", -2.5, last_row_lift=0.17)))
# the page edge is at 792: the "40" label is placed by hand just inside it
panels.append(alt.layer(*f_side(f_right_values, f_right_terms, f_right_colors, f_right_text_colors, f_rx,
                                list(range(0, 31, 10)), "left", 3, last_row_lift=0.34)))
# ribbons join the terms present on both sides
ribbon_x = lin([0, 1], [px_x(553.7), px_x(600)])
for i, term in enumerate(f_left_terms):
    if term in f_right_terms:
        j = f_right_terms.index(term)
        rb = pd.DataFrame({"x": [0, 1], "t": [i, j], "b": [i + BAR_H, j + BAR_H]})
        panels.append(alt.Chart(rb).mark_area(color=f_left_colors[i]).encode(
            x=alt.X("x:Q", scale=ribbon_x, axis=None), y=alt.Y("t:Q", scale=f_sy, axis=None, stack=None), y2="b:Q"))


# ---------------------------------------------------------------- text and headers
def notes(rows, font=OPEN, align="center", weight="normal", style="normal", angle=None):
    df = pd.DataFrame(rows, columns=["t", "x", "y", "s", "c"])
    df["x"] = df["x"] - M
    df["y"] = df["y"] - M
    kw = dict(font=font, align=align, baseline="middle", fontWeight=weight, fontStyle=style, lineBreak="\n", lineHeight=7.5)
    if angle is not None:
        kw["angle"] = angle
    return alt.Chart(df).mark_text(**kw).encode(
        x=alt.X("x:Q", scale=None), y=alt.Y("y:Q", scale=None), text="t:N",
        size=alt.Size("s:Q", scale=None, legend=None), color=alt.Color("c:N", scale=None))


HDR = "#999999"
header_df = pd.DataFrame({"a": [43, 231], "b": [213, 419], "t": [288, 288], "u": [301.7, 301.7]})
for col in "ab":
    header_df[col] = header_df[col] - M
for col in "tu":
    header_df[col] = header_df[col] - M
panels.append(alt.Chart(header_df).mark_rect(color=HDR).encode(
    x=alt.X("a:Q", scale=None), x2="b:Q", y=alt.Y("t:Q", scale=None), y2="u:Q"))

DARK, BLUE_T, GREEN_T, PURPLE_T = "#2b2b2b", "#4f73c0", "#55b96b", "#a24a94"
panels.append(notes([
    ("A", 15.5, 19.5, 18, DARK), ("B", 429, 19.5, 18, DARK), ("C", 15.5, 292, 18, DARK), ("D", 449, 291, 18, DARK),
    ("E", 13.5, 534, 18, DARK), ("F", 209, 534, 18, DARK),
], font=SANS))
panels.append(notes([
    ("15 min", 62, 68, 11.5, BLUE_T), ("24 hr", 65, 111, 11.5, BLUE_T),
    ("15 min", 62, 153, 11.5, GREEN_T), ("24 hr", 65, 194, 11.5, GREEN_T),
    ("FAIRE", 527, 19, 14, BLUE_T), ("MNase", 700, 19, 14, GREEN_T),
    ("15 min", 433, 96, 11, DARK), ("24 hr", 438, 191, 11, DARK),
    ("15 min", 34.5, 355, 11, DARK), ("24 hr", 31, 411, 11, DARK),
    ("15 min", 492, 290, 10, DARK), ("24 hr", 652, 290, 10, DARK),
    ("UP regulated in response to heat shock", 128, 294.7, 7.6, "#f0f0f0"),
    ("DOWN regulated in response to heat shock", 325, 294.7, 7.6, "#f0f0f0"),
    ("22", 763, 604, 9, DARK), ("9", 743, 648, 9, DARK), ("40", 786, 561, 9.5, "#333"),
]))
panels.append(notes([("FAIRE", 30, 97, 14, BLUE_T), ("MNase", 30, 172, 14, GREEN_T), ("gDNA", 30, 240, 14, PURPLE_T)], angle=270))
panels.append(notes([
    ("NC_001145.3", 83, 32, 4.8, "#333"), ("NC_001134.8", 268, 33, 4.8, "#333"),
    ("NC_001136.10", 59, 323, 4.8, "#333"), ("NC_001145.3", 245.7, 322.5, 4.8, "#333"),
    ("R = 0.16, p = 0.002", 547, 308, 6.8, "#333"), ("R = 0.52, p < 0.001", 711, 308, 6.8, "#333"),
    ("RNA-Seq up\nregulation", 40, 563, 5.2, "#333"), ("24-hour fixation MNase\nsignal gain", 130, 563, 5.2, "#333"),
    ("Expression log2FC", 547, 437.5, 9.5, "#333"), ("Expression log2FC", 709.5, 437.5, 9.5, "#333"),
], font=SANS))
panels.append(notes([("Total Signal log2FC", 461.7, 360, 9.5, "#333"), ("Total Signal log2FC", 626, 360, 9.5, "#333")],
                    font=SANS, angle=270))
panels.append(notes([("200", 243, 413.3, 5.2, "#333")], font=SANS, align="right"))
panels.append(notes([("GAD1", 185, 36, 6.6, "#222"), ("HSP26", 351, 36, 6.6, "#222"),
                     ("HSP42", 179.5, 322, 6.6, "#222"), ("HXT2", 373, 322, 6.6, "#222")], font=SANS, style="italic"))
panels.append(notes([("RNA-Seq up-regulation", 491, 539, 11.8, "#333"),
                     ("24-hour fixation MNase signal gain", 695, 539, 11.8, "#333")], font=SANS, weight="bold"))

# dashed divider in panel C
panels.append(alt.Chart(pd.DataFrame({"a": [0]})).mark_rule(color="#aaaaaa", strokeDash=[4, 3], strokeWidth=0.9).encode(
    x=alt.value(px_x(50)), x2=alt.value(px_x(419)), y=alt.value(px_y(390))))

chart = (
    alt.layer(*panels)
    .resolve_scale(x="independent", y="independent", color="independent")
    .properties(width=W, height=H, padding=0, background="white", autosize=alt.AutoSizeParams(type="none"))
    .configure_view(stroke=None)
)
chart.save("out.html", embed_options={"renderer": "svg", "actions": False})
